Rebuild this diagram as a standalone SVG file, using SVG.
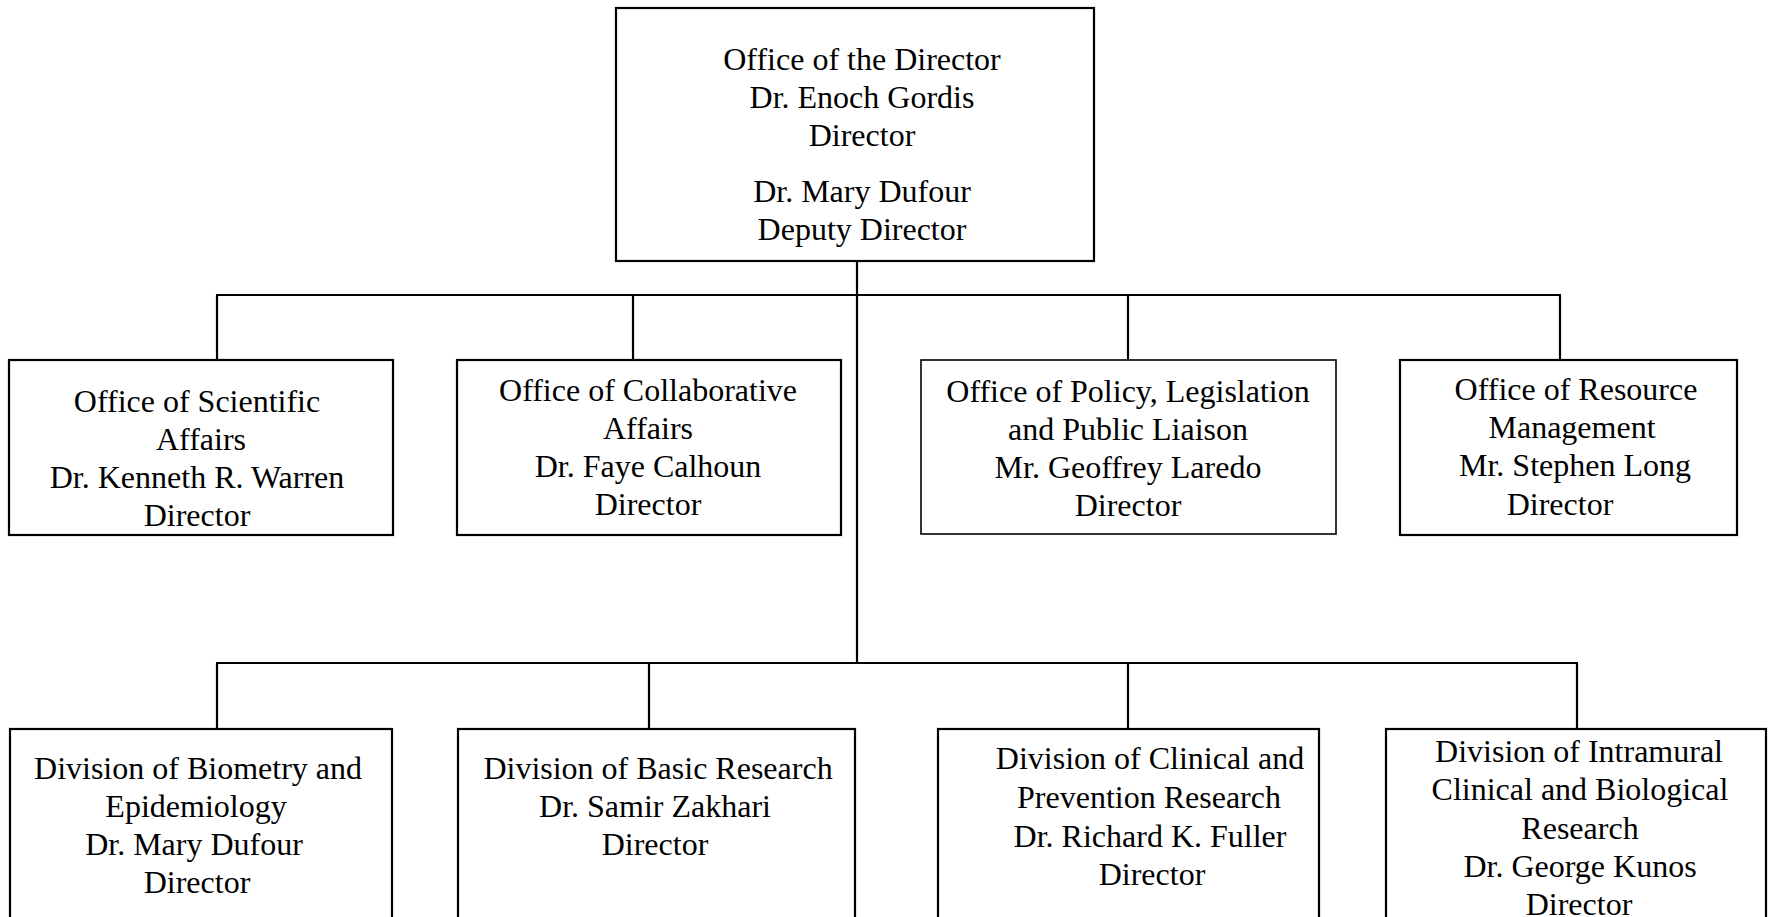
<svg xmlns="http://www.w3.org/2000/svg" width="1771" height="917" viewBox="0 0 1771 917">
<style>
.box{fill:#fff;stroke:#000;stroke-width:2.2}
.t{font-family:"Liberation Serif","Times New Roman",serif;font-size:32px;fill:#000;text-anchor:middle}
.ln{stroke:#000;stroke-width:2.2;fill:none}
</style>
<rect width="1771" height="917" fill="#fff"/>
<g id="connectors">
<path class="ln" d="M857 262V663"/>
<path class="ln" d="M216 295H1561"/>
<path class="ln" d="M217 295V359M633 295V359M1128 295V359M1560 295V359"/>
<path class="ln" d="M216 663H1578"/>
<path class="ln" d="M217 663V728M649 663V728M1128 663V728M1577 663V728"/>
</g>
<g id="director">
<rect class="box" x="616" y="8" width="478" height="253"/>
<text class="t" x="862" y="70">Office of the Director</text>
<text class="t" x="862" y="108">Dr. Enoch Gordis</text>
<text class="t" x="862" y="146">Director</text>
<text class="t" x="862" y="202">Dr. Mary Dufour</text>
<text class="t" x="862" y="240">Deputy Director</text>
</g>
<g id="scientific">
<rect class="box" x="9" y="360" width="384" height="175"/>
<text class="t" x="197" y="412">Office of Scientific</text>
<text class="t" x="201" y="450">Affairs</text>
<text class="t" x="197" y="488">Dr. Kenneth R. Warren</text>
<text class="t" x="197" y="526">Director</text>
</g>
<g id="collaborative">
<rect class="box" x="457" y="360" width="384" height="175"/>
<text class="t" x="648" y="401">Office of Collaborative</text>
<text class="t" x="648" y="439">Affairs</text>
<text class="t" x="648" y="477">Dr. Faye Calhoun</text>
<text class="t" x="648" y="515">Director</text>
</g>
<g id="policy">
<rect class="box" x="921" y="360" width="415" height="174" style="stroke-width:1.6"/>
<text class="t" x="1128" y="402">Office of Policy, Legislation</text>
<text class="t" x="1128" y="440">and Public Liaison</text>
<text class="t" x="1128" y="478">Mr. Geoffrey Laredo</text>
<text class="t" x="1128" y="516">Director</text>
</g>
<g id="resource">
<rect class="box" x="1400" y="360" width="337" height="175"/>
<text class="t" x="1576" y="400">Office of Resource</text>
<text class="t" x="1572" y="438">Management</text>
<text class="t" x="1575" y="476">Mr. Stephen Long</text>
<text class="t" x="1560" y="515">Director</text>
</g>
<g id="biometry">
<rect class="box" x="10" y="729" width="382" height="210"/>
<text class="t" x="198" y="779">Division of Biometry and</text>
<text class="t" x="196" y="817">Epidemiology</text>
<text class="t" x="194" y="855">Dr. Mary Dufour</text>
<text class="t" x="197" y="893">Director</text>
</g>
<g id="basic">
<rect class="box" x="458" y="729" width="397" height="210"/>
<text class="t" x="658" y="779">Division of Basic Research</text>
<text class="t" x="655" y="817">Dr. Samir Zakhari</text>
<text class="t" x="655" y="855">Director</text>
</g>
<g id="clinical">
<rect class="box" x="938" y="729" width="381" height="210"/>
<text class="t" x="1150" y="769">Division of Clinical and</text>
<text class="t" x="1149" y="808">Prevention Research</text>
<text class="t" x="1150" y="847">Dr. Richard K. Fuller</text>
<text class="t" x="1152" y="885">Director</text>
</g>
<g id="intramural">
<rect class="box" x="1386" y="729" width="380" height="210"/>
<text class="t" x="1579" y="762">Division of Intramural</text>
<text class="t" x="1580" y="800">Clinical and Biological</text>
<text class="t" x="1580" y="839">Research</text>
<text class="t" x="1580" y="877">Dr. George Kunos</text>
<text class="t" x="1579" y="915">Director</text>
</g>
</svg>
